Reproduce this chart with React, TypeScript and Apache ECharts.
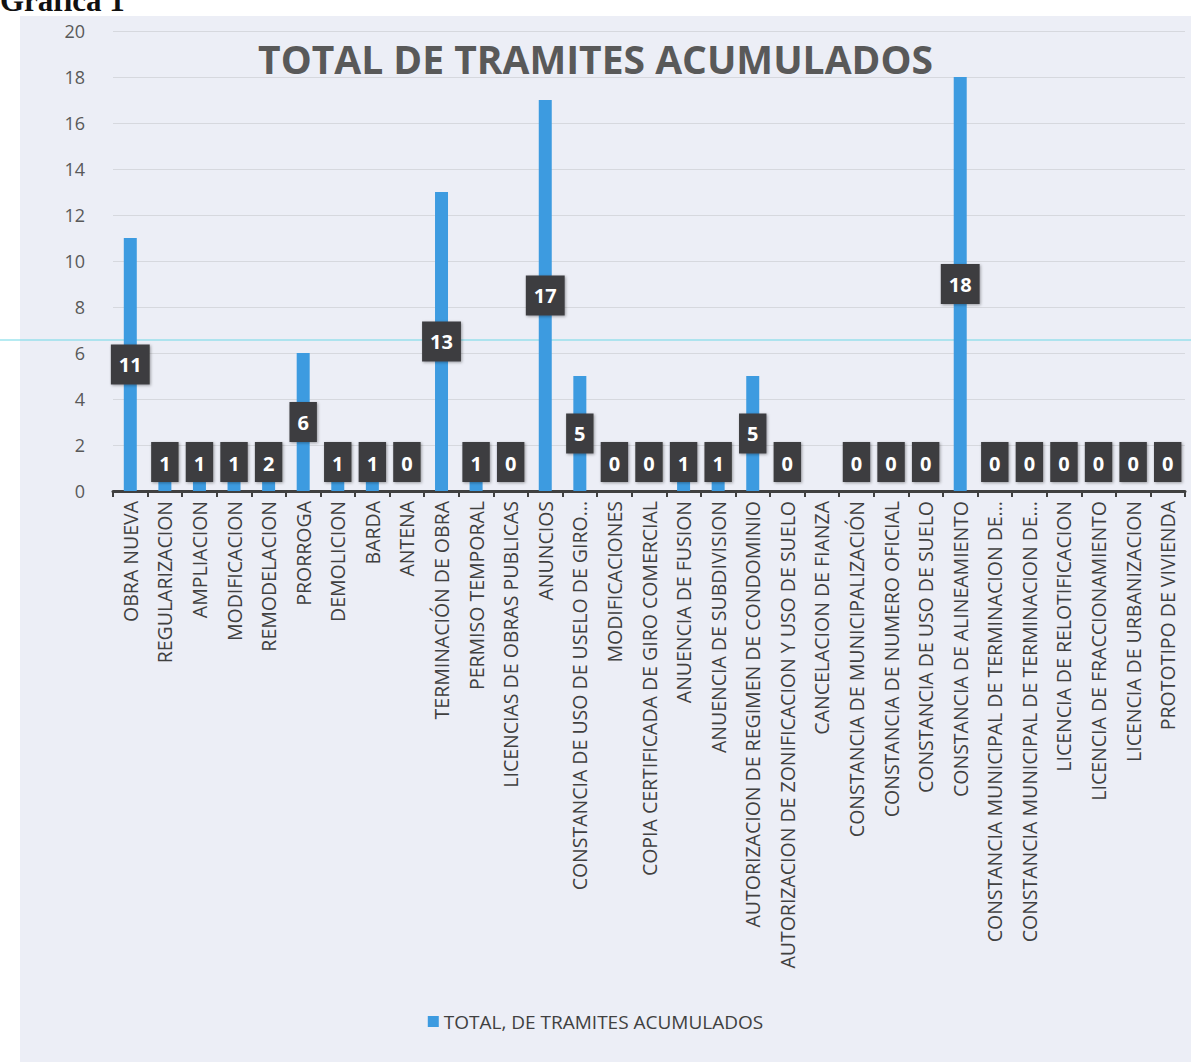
import React, { useEffect, useRef } from "react";
import * as echarts from "echarts";

const categories: string[] = [
  "OBRA NUEVA",
  "REGULARIZACION",
  "AMPLIACION",
  "MODIFICACION",
  "REMODELACION",
  "PRORROGA",
  "DEMOLICION",
  "BARDA",
  "ANTENA",
  "TERMINACIÓN DE OBRA",
  "PERMISO TEMPORAL",
  "LICENCIAS DE OBRAS PUBLICAS",
  "ANUNCIOS",
  "CONSTANCIA DE USO DE USELO DE GIRO...",
  "MODIFICACIONES",
  "COPIA CERTIFICADA DE GIRO COMERCIAL",
  "ANUENCIA DE FUSION",
  "ANUENCIA DE SUBDIVISION",
  "AUTORIZACION DE REGIMEN DE CONDOMINIO",
  "AUTORIZACION DE ZONIFICACION Y USO DE SUELO",
  "CANCELACION DE FIANZA",
  "CONSTANCIA DE MUNICIPALIZACIÓN",
  "CONSTANCIA DE NUMERO OFICIAL",
  "CONSTANCIA DE USO DE SUELO",
  "CONSTANCIA DE ALINEAMIENTO",
  "CONSTANCIA MUNICIPAL DE TERMINACION DE...",
  "CONSTANCIA MUNICIPAL DE TERMINACION DE...",
  "LICENCIA DE RELOTIFICACION",
  "LICENCIA DE FRACCIONAMIENTO",
  "LICENCIA DE URBANIZACION",
  "PROTOTIPO DE VIVIENDA",
];

const totals: (number | null)[] = [
  11, 1, 1, 1, 2, 6, 1, 1, 0, 13, 1, 0, 17, 5, 0, 0, 1, 1, 5, 0, null, 0, 0, 0,
  18, 0, 0, 0, 0, 0, 0,
];

const yTicks = { min: 0, max: 20, interval: 2 };

const seriesName = "TOTAL, DE TRAMITES ACUMULADOS";
const titleText = "TOTAL DE TRAMITES ACUMULADOS";
const captionText = "Gráfica 1";

const FONT = "'Open Sans', 'Noto Sans', sans-serif";

export default function App() {
  const ref = useRef<HTMLDivElement>(null);

  useEffect(() => {
    if (!ref.current) return;
    const chart = echarts.init(ref.current, null, { renderer: "svg" });

    const data = totals.map((v) =>
      v === null
        ? null
        : {
            value: v,
            label: {
              position: v >= 3 ? "inside" : "insideBottom",
              distance: 9,
            },
          }
    );

    chart.setOption({
      animation: false,
      backgroundColor: "#ffffff",
      textStyle: { fontFamily: FONT },
      graphic: [
        {
          type: "rect",
          z: -10,
          silent: true,
          shape: { x: 20, y: 16, width: 1171, height: 1046 },
          style: { fill: "#eceef6" },
        },
        {
          type: "text",
          left: 0,
          top: -15,
          style: {
            text: captionText,
            font: "bold 31px 'Liberation Serif', 'DejaVu Serif', serif",
            fill: "#111111",
          },
        },
        {
          type: "line",
          z: 5,
          silent: true,
          shape: { x1: 0, y1: 340, x2: 1191, y2: 340 },
          style: { stroke: "#6fd8e6", lineWidth: 1.2 },
        },
      ],
      title: {
        text: titleText,
        left: "center",
        top: 34,
        textStyle: {
          fontFamily: FONT,
          fontSize: 39,
          fontWeight: "bold",
          color: "#595959",
        },
      },
      legend: {
        bottom: 26,
        left: "center",
        icon: "rect",
        itemWidth: 11,
        itemHeight: 11,
        itemGap: 6,
        textStyle: { fontFamily: FONT, fontSize: 19, color: "#404040" },
        data: [seriesName],
      },
      grid: {
        left: 113,
        right: 6,
        top: 31,
        bottom: 571,
        containLabel: false,
      },
      xAxis: {
        type: "category",
        data: categories,
        axisLine: { lineStyle: { color: "#404040", width: 3 } },
        axisTick: {
          show: true,
          alignWithLabel: false,
          length: 6,
          lineStyle: { color: "#404040", width: 2 },
        },
        axisLabel: {
          interval: 0,
          rotate: 90,
          fontSize: 19.5,
          color: "#404040",
          fontFamily: FONT,
          margin: 10,
        },
      },
      yAxis: {
        type: "value",
        min: yTicks.min,
        max: yTicks.max,
        interval: yTicks.interval,
        axisLine: { show: false },
        axisTick: { show: false },
        axisLabel: {
          fontSize: 18,
          color: "#595959",
          margin: 28,
          fontFamily: FONT,
        },
        splitLine: { lineStyle: { color: "#d6d8de", width: 1 } },
      },
      series: [
        {
          name: seriesName,
          type: "bar",
          barWidth: 13,
          itemStyle: { color: "#3d9be0" },
          data,
          z: 10,
          label: {
            show: true,
            color: "#ffffff",
            fontSize: 20,
            fontWeight: "bold",
            fontFamily: FONT,
            backgroundColor: "#3e3e40",
            padding: [11, 8, 9, 8],
            shadowColor: "rgba(0,0,0,0.35)",
            shadowBlur: 3,
            shadowOffsetX: 1,
            shadowOffsetY: 1,
          },
        },
      ],
    });

    return () => chart.dispose();
  }, []);

  return (
    <div
      ref={ref}
      style={{
        position: "absolute",
        left: 0,
        top: 0,
        width: 1191,
        height: 1062,
      }}
    />
  );
}
